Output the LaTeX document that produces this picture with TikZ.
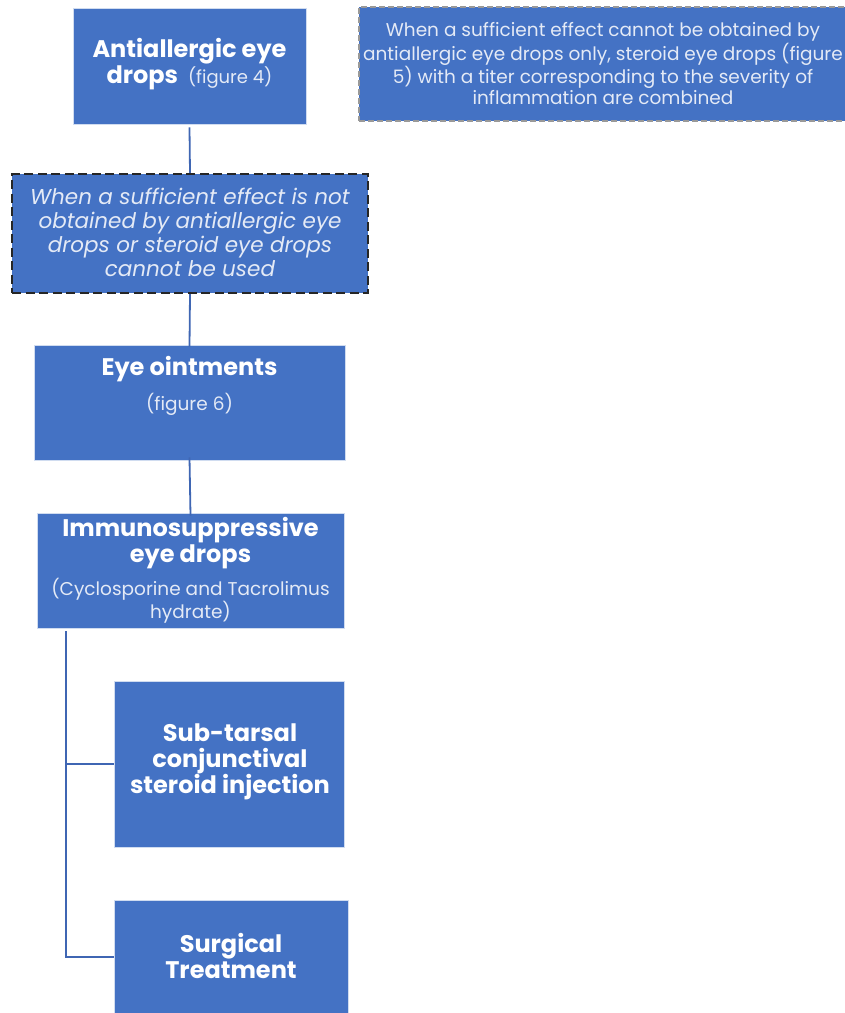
\documentclass[tikz,border=0pt]{standalone}
\usepackage{fontspec}
\setmainfont{Poppins}
\definecolor{boxblue}{HTML}{4472C4}
\definecolor{linkblue}{HTML}{3F66B3}
\definecolor{subtxt}{HTML}{E4EAF6}
\begin{document}
\begin{tikzpicture}[x=1pt,y=-1pt,
  box/.style={draw=white!75!boxblue,line width=0.8pt,fill=boxblue,inner sep=0pt},
  title/.style={text=white,font=\fontsize{24}{26}\selectfont\bfseries,align=center,inner sep=0pt},
  sub/.style={text=subtxt,font=\fontsize{18.5}{20}\selectfont,align=center,inner sep=0pt},
  link/.style={draw=linkblue,line width=1.8pt}]
\useasboundingbox (0,0) rectangle (845,1013);
% boxes
\node[box,draw=gray!80,dash pattern=on 6pt off 3pt,line width=1.5pt,minimum width=487pt,minimum height=114pt,anchor=north west] (b2) at (358,6) {};
\node[box,minimum width=233pt,minimum height=116pt] (b1) at (189.5,66) {};
\node[box,draw=black!85,dash pattern=on 9pt off 4.5pt,line width=2.2pt,minimum width=356pt,minimum height=119pt] (b3) at (190,233.5) {};
\node[box,minimum width=311pt,minimum height=115pt] (b4) at (189.5,402.5) {};
\node[box,minimum width=307pt,minimum height=115pt] (b5) at (190.5,570.5) {};
\node[box,minimum width=230pt,minimum height=166pt] (b6) at (229,764) {};
\node[box,minimum width=234pt,minimum height=125pt,anchor=north west] (b7) at (114,900) {};
% texts
\node[title] (t1) at (189.5,64) {Antiallergic eye\\drops {\mdseries\fontsize{18}{20}\selectfont\color{subtxt}\ (figure 4)}};
\node[text=subtxt,font=\fontsize{18.5}{20.7}\selectfont,align=center,inner sep=0pt] (t2) at (603,63.5) {When a sufficient effect cannot be obtained by\\antiallergic eye drops only, steroid eye drops (figure\\5) with a titer corresponding to the severity of\\inflammation are combined};
\node[text=subtxt,font=\fontsize{21.5}{24}\selectfont\itshape,align=center,inner sep=0pt] (t3) at (190,232) {When a sufficient effect is not\\obtained by antiallergic eye\\drops or steroid eye drops\\cannot be used};
\node[title] (t4a) at (189.5,369) {Eye ointments};
\node[sub] (t4b) at (189.5,404) {(figure 6)};
\node[title] (t5a) at (190.5,543) {Immunosuppressive\\eye drops};
\node[sub] (t5b) at (190.5,601) {(Cyclosporine and Tacrolimus\\hydrate)};
\node[title] (t6) at (230,762) {Sub-tarsal\\conjunctival\\steroid injection};
\node[title] (t7) at (231,956) {Surgical\\Treatment};
% connectors
\draw[link] (b1.south) ++(0,3) -- (b3.north);
\draw[link] (b3.south) -- ([yshift=-2pt]b4.north);
\draw[link] ([yshift=3pt]b4.south) -- ([yshift=-3pt]b5.north);
\coordinate (top) at (66,631);
\coordinate (j6) at (66,764);
\coordinate (j7) at (66,957);
\draw[link] (top) -- (j7) -- (b7.west |- j7);
\draw[link] (j6) -- (b6.west);
\end{tikzpicture}
\end{document}
